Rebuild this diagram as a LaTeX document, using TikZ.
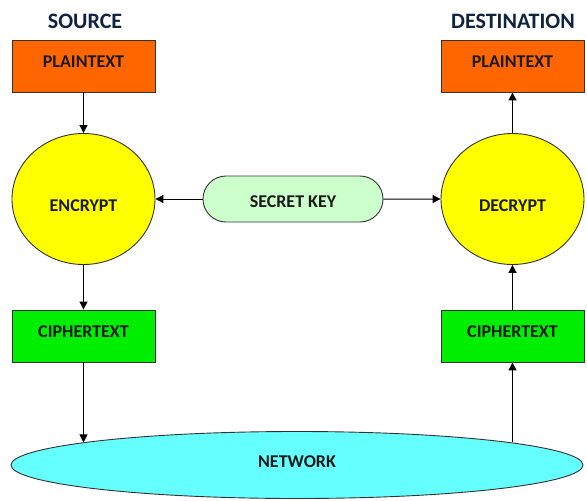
\documentclass[tikz,border=0pt]{standalone}
\usepackage{fontspec}
\setmainfont{Carlito}
\usetikzlibrary{arrows.meta,shapes.geometric,shapes.misc}
\definecolor{plainorange}{HTML}{FF6600}
\definecolor{cryptyellow}{HTML}{FFFF00}
\definecolor{ciphergreen}{HTML}{00EE00}
\definecolor{keygreen}{HTML}{CCFFCC}
\definecolor{netcyan}{HTML}{66FFFF}
\definecolor{titlenavy}{HTML}{0F2340}
\definecolor{labelink}{HTML}{1A1A1A}
\tikzset{
	shapebox/.style={draw=black!80, line width=0.9pt, inner sep=0pt, text=labelink,
		font=\bfseries\fontsize{18}{21}\selectfont},
	textbox/.style={shapebox, rectangle, minimum width=143pt, minimum height=52pt, text depth=9pt},
	cryptbox/.style={shapebox, ellipse, fill=cryptyellow, minimum width=143pt, minimum height=131pt, text height=25pt},
	keybox/.style={shapebox, rounded rectangle, fill=keygreen, minimum width=180pt, minimum height=46pt, text height=18pt},
	headline/.style={text=titlenavy, font=\bfseries\fontsize{22}{26}\selectfont},
	flow/.style={line width=1pt, -{Triangle[length=8pt,width=8pt]}}
}

\begin{document}
\begin{tikzpicture}[x=1pt, y=-1pt]
			%%%%% START %%%%%
			\useasboundingbox (0, 0) rectangle (587, 501);
			
			\node[headline] (src) at (85, 21) {SOURCE};
			\node[headline] (dst) at (513, 21) {DESTINATION};
			
			\node[textbox, fill=plainorange] (ptsrc) at (83.5, 66) {PLAINTEXT};
			\node[textbox, fill=plainorange] (ptdst) at (512.5, 66) {PLAINTEXT};
			
			\node[cryptbox] (enc) at (83.5, 199) {ENCRYPT};
			\node[cryptbox] (dec) at (512.5, 199) {DECRYPT};
			\node[keybox] (key) at (293, 199) {SECRET KEY};
			
			\node[textbox, fill=ciphergreen] (ctsrc) at (83.5, 336) {CIPHERTEXT};
			\node[textbox, fill=ciphergreen] (ctdst) at (512.5, 336) {CIPHERTEXT};
			
			\node[shapebox, ellipse, fill=netcyan, minimum width=572pt, minimum height=67pt, text depth=6pt] (net) at (297, 465) {NETWORK};
			
			%% sender side
			\draw[flow] (ptsrc) -- (enc);
			\draw[flow] (enc) -- (ctsrc);
			\draw[flow] (ctsrc.south) -- (ctsrc.south |- net.174);
			\draw[flow] (key) -- (enc);
			
			%% receiver side
			\draw[flow] (key) -- (dec);
			\draw[flow] (ctdst.south |- net.6) -- (ctdst.south);
			\draw[flow] (ctdst) -- (dec);
			\draw[flow] (dec) -- (ptdst);
			
			%%%%% END %%%%%
		\end{tikzpicture}
\end{document}
